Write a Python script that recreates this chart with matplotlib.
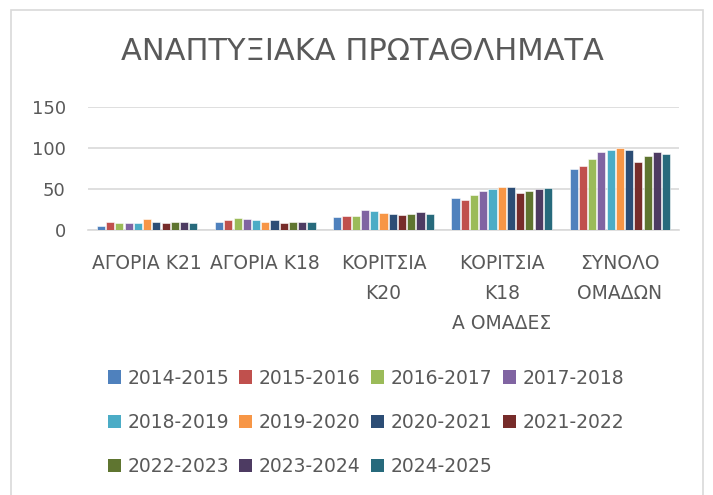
import matplotlib.pyplot as plt
import numpy as np
from matplotlib.patches import Patch, Rectangle

categories = ["ΑΓΟΡΙΑ Κ21", "ΑΓΟΡΙΑ Κ18", "ΚΟΡΙΤΣΙΑ\nΚ20",
              "ΚΟΡΙΤΣΙΑ\nΚ18\nΑ ΟΜΑΔΕΣ", "ΣΥΝΟΛΟ\nΟΜΑΔΩΝ"]
seasons = ["2014-2015", "2015-2016", "2016-2017", "2017-2018",
           "2018-2019", "2019-2020", "2020-2021", "2021-2022",
           "2022-2023", "2023-2024", "2024-2025"]

# one list per season: values for the 5 categories
s2014 = [5, 10, 16, 39, 74]
s2015 = [10, 12, 17, 37, 78]
s2016 = [8, 15, 17, 43, 86]
s2017 = [8, 14, 24, 47, 95]
s2018 = [8, 12, 23, 50, 97]
s2019 = [13, 10, 21, 52, 100]
s2020 = [10, 12, 19, 53, 97]
s2021 = [8, 9, 18, 45, 83]
s2022 = [10, 10, 19, 48, 90]
s2023 = [10, 10, 22, 50, 95]
s2024 = [8, 10, 20, 51, 93]
series = [s2014, s2015, s2016, s2017, s2018, s2019,
          s2020, s2021, s2022, s2023, s2024]

colors = ["#4F81BD", "#C0504D", "#9BBB59", "#8064A2", "#4BACC6", "#F79646",
          "#2C4D75", "#772C2A", "#5F7530", "#4D3B62", "#276A7C"]

text_color = "#595959"
grid_color = "#D9D9D9"

fig = plt.figure(figsize=(7.13, 4.95), dpi=100)
ax = fig.add_axes([88 / 713, 1 - 230 / 495, 591 / 713, 123 / 495])

x = np.arange(len(categories))
slot = 0.86 / len(series)
for i, (vals, c) in enumerate(zip(series, colors)):
    offs = (i - (len(series) - 1) / 2) * slot
    ax.bar(x + offs, vals, width=slot * 0.88, color=c,
           edgecolor="white", linewidth=0.4, zorder=3)

ax.set_xlim(-0.5, len(categories) - 0.5)
ax.set_ylim(0, 150)
ax.set_yticks([0, 50, 100, 150])
ax.yaxis.grid(True, color=grid_color, linewidth=1.2, zorder=0)
for s in ["top", "right", "left"]:
    ax.spines[s].set_visible(False)
ax.spines["bottom"].set_color(grid_color)
ax.spines["bottom"].set_linewidth(1.2)
ax.tick_params(axis="both", length=0, colors=text_color, labelsize=13)
ax.tick_params(axis="y", pad=16)
ax.tick_params(axis="x", pad=17)
ax.set_xticks(x)
ax.set_xticklabels(categories, fontsize=13.5, linespacing=1.75)

fig.text(0.508, 1 - 52 / 495, "ΑΝΑΠΤΥΞΙΑΚΑ ΠΡΩΤΑΘΛΗΜΑΤΑ", ha="center",
         va="center", fontsize=22, color=text_color)

# legend reads row by row in the reference; matplotlib fills by column
ncol = 4
order = [j + k * ncol for j in range(ncol) for k in range(3)
         if j + k * ncol < len(seasons)]
handles = [Patch(facecolor=colors[i], edgecolor="none") for i in order]
labels = [seasons[i] for i in order]
leg = fig.legend(handles, labels, ncol=ncol, loc="upper left",
                 bbox_to_anchor=(100 / 713, 1 - 361 / 495), frameon=False,
                 fontsize=13.5, handlelength=0.7, handleheight=0.7,
                 handletextpad=0.35, columnspacing=0.55, labelspacing=1.35,
                 borderaxespad=0)
for t in leg.get_texts():
    t.set_color(text_color)

# outer chart border
fig.patches.append(Rectangle((11 / 713, -0.02), 692 / 713, 1.02 - 10 / 495,
                             transform=fig.transFigure, fill=False,
                             edgecolor=grid_color, linewidth=1.2))

fig.savefig("out.png", dpi=100, facecolor="white")
